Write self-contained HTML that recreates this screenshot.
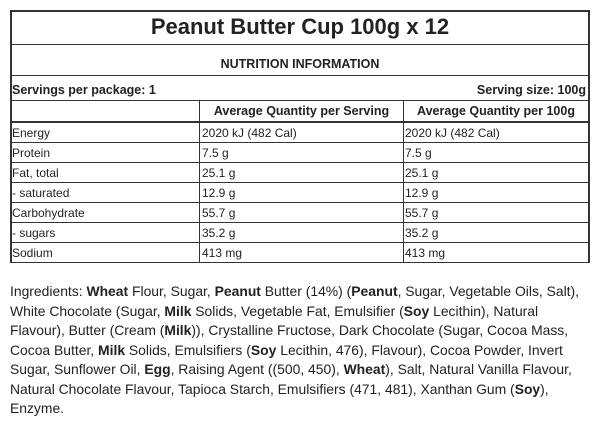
<!DOCTYPE html>
<html><head><style>
body{margin:0;width:600px;height:422px;background:#fff;font-family:"Liberation Sans",sans-serif;color:#222;position:relative;overflow:hidden}
.b{position:absolute;background:#333}
.t{position:absolute;white-space:nowrap;font-size:12px}
.ing{position:absolute;left:10px;top:282px;font-size:13.9px;line-height:19.5px;white-space:nowrap;color:#222}
</style></head><body>
<div class="b" style="left:10px;top:10px;width:580px;height:2px"></div>
<div class="b" style="left:10px;top:10px;width:2px;height:253px"></div>
<div class="b" style="left:588px;top:10px;width:2px;height:253px"></div>
<div class="b" style="left:10px;top:44px;width:580px;height:1px"></div>
<div class="b" style="left:10px;top:75px;width:580px;height:1px"></div>
<div class="b" style="left:10px;top:100px;width:580px;height:1px"></div>
<div class="b" style="left:10px;top:121px;width:580px;height:2px"></div>
<div class="b" style="left:10px;top:142px;width:580px;height:1px"></div>
<div class="b" style="left:10px;top:162px;width:580px;height:1px"></div>
<div class="b" style="left:10px;top:182px;width:580px;height:1px"></div>
<div class="b" style="left:10px;top:202px;width:580px;height:1px"></div>
<div class="b" style="left:10px;top:222px;width:580px;height:1px"></div>
<div class="b" style="left:10px;top:242px;width:580px;height:1px"></div>
<div class="b" style="left:10px;top:262px;width:580px;height:1px"></div>
<div class="b" style="left:199px;top:100px;width:1px;height:163px"></div>
<div class="b" style="left:403px;top:100px;width:1px;height:163px"></div>

<div class="t" style="left:10px;width:580px;text-align:center;top:14px;font-size:22px;font-weight:bold">Peanut Butter Cup 100g x 12</div>
<div class="t" style="left:10px;width:580px;text-align:center;top:57px;font-size:12.5px;font-weight:bold">NUTRITION INFORMATION</div>
<div class="t" style="left:12px;top:83px;font-size:12.5px;font-weight:bold">Servings per package: 1</div>
<div class="t" style="right:14px;top:83px;font-size:12.5px;font-weight:bold">Serving size: 100g</div>
<div class="t" style="left:200px;width:203px;text-align:center;top:104px;font-size:12.5px;font-weight:bold">Average Quantity per Serving</div>
<div class="t" style="left:404px;width:184px;text-align:center;top:104px;font-size:12.5px;font-weight:bold">Average Quantity per 100g</div>

<div class="t" style="left:12px;top:126px">Energy</div><div class="t" style="left:202px;top:126px">2020 kJ (482 Cal)</div><div class="t" style="left:405px;top:126px">2020 kJ (482 Cal)</div>
<div class="t" style="left:12px;top:146px">Protein</div><div class="t" style="left:202px;top:146px">7.5 g</div><div class="t" style="left:405px;top:146px">7.5 g</div>
<div class="t" style="left:12px;top:166px">Fat, total</div><div class="t" style="left:202px;top:166px">25.1 g</div><div class="t" style="left:405px;top:166px">25.1 g</div>
<div class="t" style="left:12px;top:186px">- saturated</div><div class="t" style="left:202px;top:186px">12.9 g</div><div class="t" style="left:405px;top:186px">12.9 g</div>
<div class="t" style="left:12px;top:206px">Carbohydrate</div><div class="t" style="left:202px;top:206px">55.7 g</div><div class="t" style="left:405px;top:206px">55.7 g</div>
<div class="t" style="left:12px;top:226px">- sugars</div><div class="t" style="left:202px;top:226px">35.2 g</div><div class="t" style="left:405px;top:226px">35.2 g</div>
<div class="t" style="left:12px;top:246px">Sodium</div><div class="t" style="left:202px;top:246px">413 mg</div><div class="t" style="left:405px;top:246px">413 mg</div>

<div class="ing">Ingredients: <b>Wheat</b> Flour, Sugar, <b>Peanut</b> Butter (14%) (<b>Peanut</b>, Sugar, Vegetable Oils, Salt),<br>
White Chocolate (Sugar, <b>Milk</b> Solids, Vegetable Fat, Emulsifier (<b>Soy</b> Lecithin), Natural<br>
Flavour), Butter (Cream (<b>Milk</b>)), Crystalline Fructose, Dark Chocolate (Sugar, Cocoa Mass,<br>
Cocoa Butter, <b>Milk</b> Solids, Emulsifiers (<b>Soy</b> Lecithin, 476), Flavour), Cocoa Powder, Invert<br>
Sugar, Sunflower Oil, <b>Egg</b>, Raising Agent ((500, 450), <b>Wheat</b>), Salt, Natural Vanilla Flavour,<br>
Natural Chocolate Flavour, Tapioca Starch, Emulsifiers (471, 481), Xanthan Gum (<b>Soy</b>),<br>
Enzyme.</div>
</body></html>
